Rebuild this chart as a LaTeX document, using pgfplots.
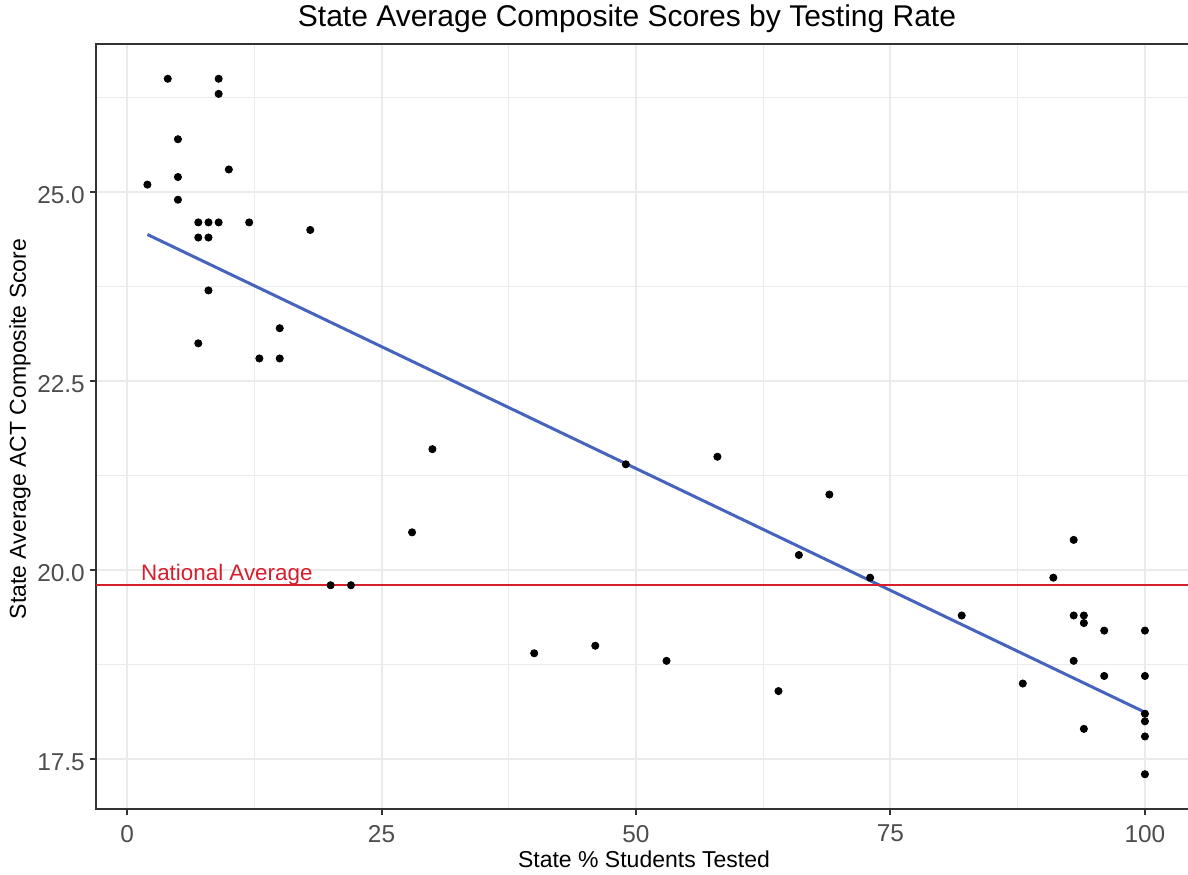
\documentclass[border=0pt]{standalone}
\usepackage{pgfplots}
\pgfplotsset{compat=1.18}
\usepackage{fontspec}
\setmainfont{Liberation Sans}
\definecolor{gridc}{HTML}{EBEBEB}
\definecolor{borderc}{HTML}{333333}
\definecolor{tickc}{HTML}{4D4D4D}
\definecolor{fitc}{RGB}{70,100,190}
\definecolor{natc}{RGB}{215,30,45}

\pgfplotstableread{
x y
2 25.1
4 26.5
5 25.7
5 25.2
5 24.9
7 24.6
7 24.4
8 24.6
8 24.4
8 23.7
7 23.0
9 26.5
9 26.3
9 24.6
10 25.3
12 24.6
13 22.8
15 23.2
15 22.8
18 24.5
20 19.8
22 19.8
28 20.5
30 21.6
40 18.9
46 19.0
49 21.4
53 18.8
58 21.5
64 18.4
66 20.2
69 21.0
73 19.9
82 19.4
88 18.5
91 19.9
93 20.4
93 19.4
93 18.8
94 19.4
94 19.3
94 17.9
96 19.2
96 18.6
100 19.2
100 18.6
100 18.1
100 18.0
100 17.8
100 17.3
}\statedata

\begin{document}
\begin{tikzpicture}
\begin{axis}[
  name=ax, at={(0,0)}, anchor=south west,
  scale only axis, width=555pt, height=382.5pt,
  xmin=-3.05, xmax=106, ymin=16.84, ymax=26.96,
  xtick={0,25,50,75,100}, xticklabels={0,25,50,75,100},
  minor xtick={12.5,37.5,62.5,87.5},
  ytick={17.5,20,22.5,25}, yticklabels={17.5,20.0,22.5,25.0},
  minor ytick={18.75,21.25,23.75,26.25},
  grid=both,
  major grid style={gridc, line width=1pt},
  minor grid style={gridc, line width=0.6pt},
  axis line style={borderc, line width=1pt},
  tick style={borderc, line width=1pt},
  tick align=outside, major tick length=2.8pt, minor tick length=0pt,
  xtick pos=lower, ytick pos=left,
  /pgf/number format/assume math mode=true,
  ticklabel style={font=\fontsize{12.2}{14}\selectfont, text=tickc},
  xticklabel style={anchor=north, inner sep=0pt, yshift=-5pt},
  yticklabel style={anchor=east, inner sep=0pt, xshift=-2.6pt, yshift=-1.5pt},
]
\addplot[only marks, mark=*, mark size=1.8pt, black] table[x=x, y=y] {\statedata};
\addplot[fitc, line width=1.5pt] coordinates {(2,24.44) (100,18.12)};
\addplot[natc, line width=0.8pt] coordinates {(-3.05,19.8) (106,19.8)};
\node[natc, anchor=base, inner sep=0pt, font=\fontsize{11.2}{13}\selectfont] at (axis cs:9.8,19.86) {National Average};
\end{axis}
\node[anchor=base, inner sep=0pt, font=\fontsize{15}{18}\selectfont] at ([xshift=265.5pt, yshift=391pt]ax.south west) {State Average Composite Scores by Testing Rate};
\node[anchor=base, inner sep=0pt, font=\fontsize{11.5}{14}\selectfont] at ([xshift=274pt, yshift=-29pt]ax.south west) {State \% Students Tested};
\node[anchor=center, rotate=90, inner sep=0pt, font=\fontsize{11.5}{14}\selectfont] at ([xshift=-38pt, yshift=190pt]ax.south west) {State Average ACT Composite Score};
\pgfresetboundingbox
\path[use as bounding box] ([xshift=-48pt, yshift=-32.5pt]ax.south west) rectangle ([xshift=546pt, yshift=404.5pt]ax.south west);
\end{tikzpicture}
\end{document}
